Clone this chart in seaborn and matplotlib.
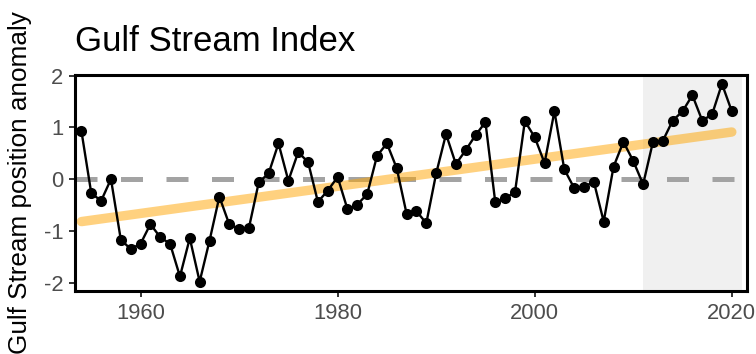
import numpy as np
import pandas as pd
import matplotlib
matplotlib.use("Agg")
import matplotlib.pyplot as plt
import seaborn as sns

# Gulf Stream position anomaly
years = list(range(1954, 2021))
anomaly = [
    0.93, -0.27, -0.42, 0.00, -1.17, -1.35, -1.25, -0.87, -1.12, -1.25,   # 1954-1963
    -1.88, -1.14, -1.98, -1.19, -0.34, -0.87, -0.96, -0.94, -0.06, 0.11,  # 1964-1973
    0.69, -0.03, 0.52, 0.33, -0.44, -0.22, 0.04, -0.58, -0.49, -0.29,     # 1974-1983
    0.45, 0.69, 0.21, -0.67, -0.62, -0.85, 0.11, 0.87, 0.29, 0.56,        # 1984-1993
    0.85, 1.10, -0.45, -0.37, -0.25, 1.12, 0.81, 0.31, 1.31, 0.19,        # 1994-2003
    -0.17, -0.15, -0.05, -0.82, 0.24, 0.72, 0.35, -0.10, 0.72, 0.74,      # 2004-2013
    1.13, 1.31, 1.62, 1.13, 1.25, 1.84, 1.31,                             # 2014-2020
]
# long-term trend line (end points)
trend_years = [1954, 2020]
trend_values = [-0.82, 0.91]

recent_start, recent_end = 2011, 2021
x_ticks = [1960, 1980, 2000, 2020]
y_ticks = [-2, -1, 0, 1, 2]

df = pd.DataFrame({"year": years, "anomaly": anomaly})
trend = pd.DataFrame({"year": trend_years, "anomaly": trend_values})

sns.set_theme(style="white")
plt.rcParams["font.family"] = ["Liberation Sans", "DejaVu Sans"]
plt.rcParams["axes.unicode_minus"] = False

fig = plt.figure(figsize=(7.56, 3.54), dpi=100)
ax = fig.add_axes([0.0992, 0.178, 0.889, 0.610])

# shaded recent period
ax.axvspan(recent_start, recent_end, color="#f0f0f0", lw=0, zorder=0)

# zero reference line
ax.axhline(0, color="#a3a3a3", lw=3.6, dashes=(4.4, 4.7), zorder=1)

# trend
sns.lineplot(data=trend, x="year", y="anomaly", ax=ax, color="#ffa500",
             alpha=0.5, lw=6.8, solid_capstyle="round", zorder=2)

# index time series
sns.lineplot(data=df, x="year", y="anomaly", ax=ax, color="black", lw=1.7,
             marker="o", markersize=8, markeredgewidth=0, zorder=3)

ax.set_xlim(1953.35, 2021.55)
ax.set_ylim(-2.16, 2.01)
ax.set_xticks(x_ticks)
ax.set_yticks(y_ticks)
ax.set_yticklabels([str(v) for v in y_ticks])

for s in ax.spines.values():
    s.set_color("black")
    s.set_linewidth(2.2)

ax.tick_params(axis="both", which="major", bottom=True, left=True,
               length=4.5, width=1.4, color="#333333",
               labelsize=15.8, labelcolor="#4d4d4d", pad=4)

ax.set_xlabel("")
ax.set_ylabel("Gulf Stream position anomaly", fontsize=18.8, color="black",
              labelpad=8)
ax.set_title("Gulf Stream Index", loc="left", fontsize=25, color="black",
             pad=17)

fig.savefig("out.png", dpi=100)
